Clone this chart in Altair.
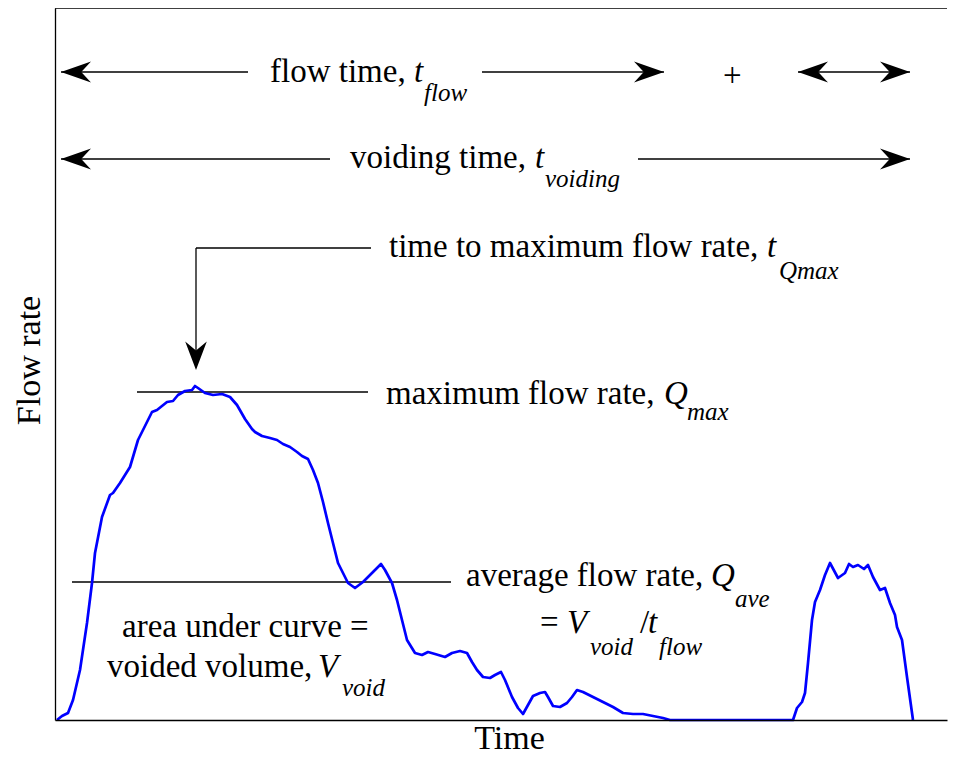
import altair as alt
import pandas as pd

# ---- data (time in s, flow rate in ml/s) ----
time_s = [0.2, 0.7, 1.3, 1.8, 2.5, 3.2, 3.7, 4.0, 4.7, 5.5, 5.8, 6.5, 7.5, 8.3, 9.2, 9.7, 10.2,
          11.2, 11.8, 12.3, 13.0, 13.7, 14.0, 14.3, 15.0, 15.8, 16.7, 17.5, 18.2, 19.0, 19.7,
          20.0, 20.7, 21.5, 22.2, 22.8, 23.5, 24.2, 24.7, 25.3, 25.8, 26.3, 26.8, 27.3, 27.8,
          28.3, 28.8, 29.3, 30.0, 30.8, 31.7, 32.6, 33.0, 33.7, 34.2, 34.7, 35.2, 36.0, 36.7,
          37.3, 38.0, 39.0, 39.7, 40.5, 41.2, 41.7, 42.2, 42.8, 43.5, 44.0, 44.6, 45.0, 45.7,
          46.3, 46.8, 47.3, 47.8, 48.5, 49.0, 49.3, 49.8, 50.5, 51.2, 51.7, 52.2, 52.8, 53.8,
          54.8, 55.8, 56.8, 57.8, 58.8, 59.8, 60.8, 61.5, 73.8, 74.2, 74.7, 75.0, 75.3, 75.7,
          76.0, 76.5, 77.0, 77.5, 78.3, 79.0, 79.4, 79.8, 80.3, 80.9, 81.3, 81.8, 82.5, 83.0,
          83.5, 84.0, 84.2, 84.7, 85.2, 85.8]
flow_rate = [0.0, 0.4, 0.7, 2.0, 5.0, 9.7, 13.7, 16.7, 20.3, 22.5, 22.7, 23.7, 25.3, 28.0, 29.8,
             30.8, 31.0, 31.8, 31.9, 32.5, 32.9, 33.0, 33.4, 33.2, 32.7, 32.5, 32.6, 32.3, 31.5,
             30.1, 29.1, 28.8, 28.4, 28.2, 28.0, 27.6, 27.3, 26.8, 26.4, 26.1, 25.0, 23.7, 21.8,
             19.7, 17.7, 15.7, 14.7, 13.7, 13.2, 13.8, 14.7, 15.6, 15.0, 13.7, 12.0, 10.0, 8.0,
             6.7, 6.5, 6.8, 6.6, 6.3, 6.7, 6.9, 6.7, 5.8, 5.0, 4.3, 4.2, 4.5, 4.8, 4.0, 2.3, 1.2,
             0.6, 1.5, 2.4, 2.7, 2.8, 2.3, 1.4, 1.3, 1.7, 2.3, 3.0, 2.8, 2.3, 1.8, 1.3, 0.7, 0.6,
             0.6, 0.4, 0.2, 0.0, 0.0, 1.2, 1.8, 2.7, 5.7, 10.0, 11.8, 13.0, 14.5, 15.7, 14.2,
             14.7, 15.6, 15.3, 15.5, 15.1, 15.5, 14.3, 13.0, 13.2, 11.7, 10.5, 9.3, 8.0, 4.3, 0.0]

T_MAX = 89.2
Q_MAX = 71.2

# annotation line segments (start time, start flow, end time, end flow)
seg_t1 = [0.0, 8.2, 1.7, 14.1, 14.1, 0.6, 42.7, 74.3, 0.6, 58.3]
seg_q1 = [Q_MAX, 32.8, 13.8, 47.2, 47.2, 64.8, 64.8, 64.8, 56.1, 56.1]
seg_t2 = [T_MAX, 31.3, 39.6, 31.6, 14.1, 19.3, 60.9, 85.5, 27.5, 85.5]
seg_q2 = [Q_MAX, 32.8, 13.8, 47.2, 36.0, 64.8, 64.8, 64.8, 56.1, 56.1]

# arrowhead tips
head_t = [0.6, 60.9, 74.3, 85.5, 0.6, 85.5, 14.1]
head_q = [64.8, 64.8, 64.8, 64.8, 56.1, 56.1, 35.0]
head_dir = ["left", "right", "left", "right", "left", "right", "down"]

# text pieces: upright, italic symbols, italic subscripts
roman_text = ["flow time,", "voiding time,", "time to maximum flow rate,", "maximum flow rate,",
              "average flow rate,", "=", "/", "area under curve =", "voided volume,", "+"]
roman_t = [21.5, 29.5, 33.4, 33.1, 41.1, 48.5, 58.5, 6.7, 5.2, 66.8]
roman_q = [63.8, 55.2, 46.3, 31.6, 13.4, 8.7, 8.7, 8.3, 4.3, 63.4]

ital_text = ["t", "t", "t", "Q", "Q", "V", "t", "V"]
ital_t = [35.9, 48.0, 71.2, 60.9, 65.6, 51.2, 59.3, 26.3]
ital_q = [63.8, 55.2, 46.3, 31.6, 13.4, 8.7, 8.7, 4.3]

sub_text = ["flow", "voiding", "Qmax", "max", "ave", "void", "flow", "void"]
sub_t = [36.9, 49.0, 72.4, 63.2, 68.0, 53.5, 60.4, 28.7]
sub_q = [61.9, 53.3, 44.1, 30.0, 11.3, 6.5, 6.5, 2.4]

# ---- chart ----
FONT = "Liberation Serif"

curve = pd.DataFrame({"t": time_s, "q": flow_rate})
segs = pd.DataFrame({"t1": seg_t1, "q1": seg_q1, "t2": seg_t2, "q2": seg_q2})
heads = pd.DataFrame({"t": head_t, "q": head_q, "dir": head_dir})
roman = pd.DataFrame({"t": roman_t, "q": roman_q, "txt": roman_text})
ital = pd.DataFrame({"t": ital_t, "q": ital_q, "txt": ital_text})
subs = pd.DataFrame({"t": sub_t, "q": sub_q, "txt": sub_text})

xscale = alt.Scale(domain=[0, T_MAX], nice=False, zero=False)
yscale = alt.Scale(domain=[0, Q_MAX], nice=False, zero=False)

xaxis = alt.Axis(title="Time", ticks=False, labels=False, grid=False,
                 domainColor="black", domainWidth=1.3, zindex=1,
                 titleFont=FONT, titleFontSize=34, titleFontWeight="normal", titleColor="black",
                 titleX=454, titleY=28, titleAlign="center", titleBaseline="alphabetic")
yaxis = alt.Axis(title="Flow rate", ticks=False, labels=False, grid=False,
                 domainColor="black", domainWidth=1.3, zindex=1,
                 titleFont=FONT, titleFontSize=34, titleFontWeight="normal", titleColor="black",
                 titleX=-16, titleY=352, titleAngle=270, titleAlign="center",
                 titleBaseline="alphabetic")


def X(field):
    return alt.X(field, type="quantitative", scale=xscale, axis=xaxis)


def Y(field):
    return alt.Y(field, type="quantitative", scale=yscale, axis=yaxis)


line = alt.Chart(curve).mark_line(color="#0000ff", strokeWidth=2.7, strokeJoin="round").encode(
    x=X("t"), y=Y("q"))

rules = alt.Chart(segs).mark_rule(color="black", strokeWidth=1.3).encode(
    x=X("t1"), x2="t2", y=Y("q1"), y2="q2")

shape_left = "M0,0L2,-0.7L1.35,0L2,0.7Z"
shape_right = "M0,0L-2,-0.7L-1.35,0L-2,0.7Z"
shape_down = "M0,0L-0.72,-1.9L0,-1.3L0.72,-1.9Z"

arrowheads = alt.Chart(heads).mark_point(filled=True, opacity=1, color="black", strokeWidth=0).encode(
    x=X("t"), y=Y("q"),
    shape=alt.Shape("dir:N", scale=alt.Scale(domain=["left", "right", "down"],
                                             range=[shape_left, shape_right, shape_down]),
                    legend=None),
    size=alt.value(900))

roman_layer = alt.Chart(roman).mark_text(align="left", baseline="alphabetic", font=FONT,
                                         fontSize=33, color="black").encode(
    x=X("t"), y=Y("q"), text="txt:N")
ital_layer = alt.Chart(ital).mark_text(align="left", baseline="alphabetic", font=FONT,
                                       fontSize=33, fontStyle="italic", color="black").encode(
    x=X("t"), y=Y("q"), text="txt:N")
sub_layer = alt.Chart(subs).mark_text(align="left", baseline="alphabetic", font=FONT,
                                      fontSize=25, fontStyle="italic", color="black").encode(
    x=X("t"), y=Y("q"), text="txt:N")

chart = alt.layer(rules, line, arrowheads, roman_layer, ital_layer, sub_layer).properties(
    width=892, height=712,
    padding={"left": 47, "top": 0, "right": 1, "bottom": 36},
    autosize=alt.AutoSizeParams(type="none"),
    background="white",
).configure_view(stroke=None)

chart.save("out.html", embed_options={"renderer": "svg", "actions": False})
